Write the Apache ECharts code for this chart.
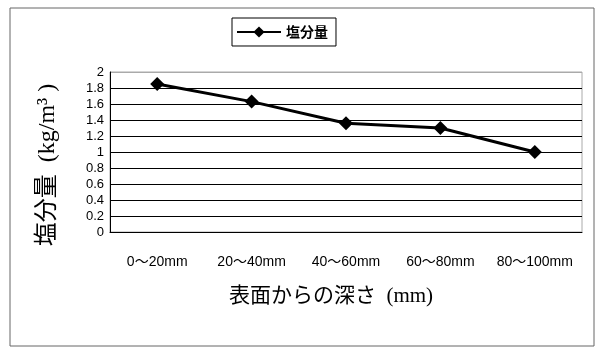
<!DOCTYPE html>
<html><head><meta charset="utf-8">
<script src="https://cdn.jsdelivr.net/npm/echarts@6/dist/echarts.min.js"></script>
<style>html,body{margin:0;padding:0;background:#fff}#c{width:596px;height:349px}</style>
</head><body><div id="c"></div>
<script>
const categories = ['0～20mm', '20～40mm', '40～60mm', '60～80mm', '80～100mm'];
const seriesName = '塩分量';
const values = [1.85, 1.63, 1.36, 1.30, 1.00];
const yTicks = [0, 0.2, 0.4, 0.6, 0.8, 1, 1.2, 1.4, 1.6, 1.8, 2];
const xTitle = '表面からの深さ  (mm)';
const yTitle = '塩分量  (kg/m³ )';

const chart = echarts.init(document.getElementById('c'));
const gridColors = yTicks.map((v, i) => i === yTicks.length - 1 ? '#aaa' : '#000');
chart.setOption({
  animation: false,
  backgroundColor: '#fff',
  graphic: [{type: 'rect', shape: {x: 10, y: 8, width: 584, height: 338}, style: {fill: null, stroke: '#666', lineWidth: 1}}],
  legend: {
    left: 232, top: 18, itemWidth: 44, itemHeight: 14,
    borderColor: '#000', borderWidth: 1, padding: [7, 8, 7, 4], itemGap: 4,
    textStyle: {fontFamily: 'Noto Sans CJK JP', fontWeight: 'bold', fontSize: 14, color: '#000'},
    data: [seriesName]
  },
  grid: {left: 110, right: 14, top: 72, bottom: 117, show: true, borderColor: '#aaa', borderWidth: 1},
  xAxis: {
    type: 'category', data: categories, boundaryGap: true,
    axisLine: {lineStyle: {color: '#000', width: 1}},
    axisTick: {inside: true, length: 5, lineStyle: {color: '#000'}},
    axisLabel: {color: '#000', fontFamily: 'Liberation Sans, Arial, Noto Sans CJK JP', fontSize: 14, margin: 23, interval: 0},
    name: xTitle, nameLocation: 'middle', nameGap: 54,
    nameTextStyle: {color: '#000', fontFamily: 'Liberation Serif, Noto Sans CJK JP', fontSize: 21, padding: [0, 30, 0, 0]}
  },
  yAxis: {
    type: 'value', min: 0, max: 2, interval: 0.2,
    axisLine: {show: true, lineStyle: {color: '#000'}},
    axisTick: {show: false},
    axisLabel: {color: '#000', fontFamily: 'Liberation Sans, Arial', fontSize: 13, margin: 6,
      formatter: v => String(Math.round(v * 10) / 10)},
    splitLine: {show: true, lineStyle: {color: gridColors, width: 1}},
    name: yTitle, nameLocation: 'middle', nameGap: 50, nameRotate: 90,
    nameTextStyle: {color: '#000', fontFamily: 'Liberation Serif, Noto Sans CJK JP', fontSize: 24, padding: [0, 26, 0, 0]}
  },
  series: [{
    name: seriesName, type: 'line', data: values,
    symbol: 'diamond', symbolSize: 14,
    lineStyle: {color: '#000', width: 3},
    itemStyle: {color: '#000'}
  }]
});
</script></body></html>
